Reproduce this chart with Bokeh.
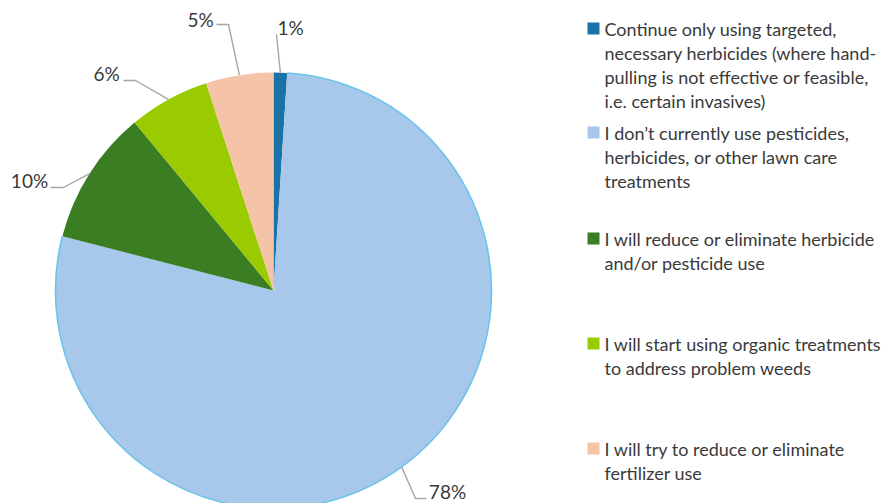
import math
from bokeh.plotting import figure
from bokeh.models import Range1d
from bokeh.core.properties import value
from bokeh.embed import file_html
from bokeh.resources import INLINE

# Survey answers: share of respondents (percent) and legend wording
categories = [
    "Continue only using targeted, necessary herbicides (where hand-pulling is not effective or feasible, i.e. certain invasives)",
    "I don\u2019t currently use pesticides, herbicides, or other lawn care treatments",
    "I will reduce or eliminate herbicide and/or pesticide use",
    "I will start using organic treatments to address problem weeds",
    "I will try to reduce or eliminate fertilizer use",
]
legend_lines = [
    ["Continue only using targeted,", "necessary herbicides (where hand-",
     "pulling is not effective or feasible,", "i.e. certain invasives)"],
    ["I don\u2019t currently use pesticides,", "herbicides, or other lawn care", "treatments"],
    ["I will reduce or eliminate herbicide", "and/or pesticide use"],
    ["I will start using organic treatments", "to address problem weeds"],
    ["I will try to reduce or eliminate", "fertilizer use"],
]
shares = [1, 78, 10, 6, 5]
colors = ["#1B72A6", "#A7C8EA", "#3A7D23", "#99CB00", "#F5C3A8"]

W, H = 889, 503
FONT = "Lato"
TEXT_COLOR = "#3A3A3A"
LEADER_COLOR = "#A6A6A6"


def up(y):
    """Convert a top-down pixel row into the plot's bottom-up y."""
    return H - y


p = figure(width=W, height=H, x_range=Range1d(0, W), y_range=Range1d(0, H),
           output_backend="svg", toolbar_location=None,
           x_axis_type=None, y_axis_type=None, min_border=0)
p.grid.visible = False
p.outline_line_color = None
p.background_fill_color = "white"

# Pie geometry
cx, cy, r = 273, up(290), 218
total = float(sum(shares))
starts, ends, mids = [], [], []
acc = 0.0
for s in shares:
    a0 = math.pi / 2 - 2 * math.pi * acc / total
    acc += s
    a1 = math.pi / 2 - 2 * math.pi * acc / total
    starts.append(a0)
    ends.append(a1)
    mids.append((a0 + a1) / 2)

p.wedge(x=[cx] * len(shares), y=[cy] * len(shares), radius=r,
        start_angle=starts, end_angle=ends, direction="clock",
        fill_color=colors, line_color=None)
# light rim along the outer edge of the largest slice
p.arc(x=cx, y=cy, radius=r, start_angle=starts[1], end_angle=ends[1],
      direction="clock", line_color="#6EC3EA", line_width=1.6)

# Data labels with elbow leader lines toward each slice's middle
label_pos = [(290, 27), (447, 491), (29, 180), (106, 73), (200, 19)]
leader_knees = [
    [(276, 34)],
    [(426, 498), (415, 498)],
    [(50, 187), (63, 187)],
    [(123, 80), (135, 80)],
    [(216, 24), (228, 24)],
]
xs, ys = [], []
for m, knees in zip(mids, leader_knees):
    ex = cx + r * math.cos(m)
    ey = cy + r * math.sin(m)
    xs.append([k[0] for k in knees] + [ex])
    ys.append([up(k[1]) for k in knees] + [ey])
p.multi_line(xs=xs, ys=ys, line_color=LEADER_COLOR, line_width=1.4)

p.text(x=[lp[0] for lp in label_pos], y=[up(lp[1]) for lp in label_pos],
       text=[f"{s}%" for s in shares], text_font=value(FONT),
       text_font_size="19px", text_color=TEXT_COLOR,
       text_align="center", text_baseline="middle")

# Legend at right
entry_top = [28, 132, 238, 343, 448]
line_step = 24
sq_x, sq_size, text_x = 593, 12, 604
p.rect(x=[sq_x] * len(shares), y=[up(t) for t in entry_top],
       width=sq_size, height=sq_size, fill_color=colors, line_color=None)
lx, ly, lt = [], [], []
for top, lines in zip(entry_top, legend_lines):
    for i, line in enumerate(lines):
        lx.append(text_x)
        ly.append(up(top + i * line_step))
        lt.append(line)
p.text(x=lx, y=ly, text=lt, text_font=value(FONT), text_font_size="18px",
       text_color=TEXT_COLOR, text_align="left", text_baseline="middle")

open("out.html", "w").write(file_html(p, INLINE))
